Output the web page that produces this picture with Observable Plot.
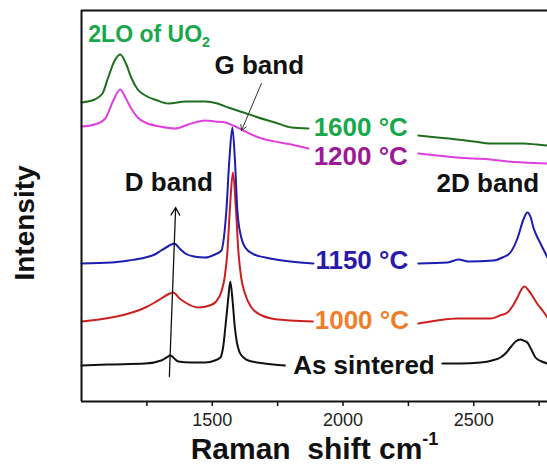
<!DOCTYPE html>
<html><head><meta charset="utf-8">
<script src="https://cdn.jsdelivr.net/npm/d3@7"></script>
<script src="https://cdn.jsdelivr.net/npm/@observablehq/plot@0.6"></script>
<style>body{margin:0;background:#fff}</style>
</head><body><div id="chart"></div>
<script>
// ---- data (Raman shift in cm-1, intensity in arbitrary offset units) ----
const xTicks = [1500, 2000, 2500];
const xMinorTicks = [1250, 1750, 2250, 2750];
const xDomain = [1000, 2782];
const yDomain = [0, 391];

const seriesNames = ["As sintered", "1000 °C", "1150 °C", "1200 °C", "1600 °C"];
const lineColors  = ["#111111", "#cc1f1f", "#1c1cb0", "#dd40dd", "#1f6f1f"];

// null = gap where the curve label sits
const shiftSintered = [1000,1100,1244,1305,1325,1340,1355,1370,1420,1473,1510,1531,1542,1550,1560,1569,1578,1586,1595,1605,1620,1638,1700,1778,2000,2380,2450,2526,2570,2602,2625,2640,2660,2679,2690,2705,2720,2736,2760,2782];
const intSintered   = [36,37,38,41,44,46,43,40,39,39,41,44,55,74,100,120,100,75,58,49,44,41,38,36,null,38,38,39,41,44,49,54,60,62,61,59,52,44,40,38];

const shift1000 = [1000,1114,1180,1244,1280,1305,1330,1351,1375,1397,1446,1490,1515,1535,1548,1558,1568,1579,1590,1600,1610,1625,1650,1690,1726,1800,1885,2000,2288,2360,2437,2500,2564,2600,2629,2650,2667,2680,2694,2710,2728,2745,2763,2782];
const int1000   = [80,84,88,94,99,103,107,109,103,99,94,96,100,110,125,150,195,229,195,150,125,108,94,86,83,81,80,null,78,81,83,83,83,86,89,96,104,111,115,111,104,97,91,84];

const shift1150 = [1000,1114,1180,1244,1280,1305,1330,1355,1375,1397,1430,1473,1510,1535,1545,1554,1565,1577,1587,1596,1610,1626,1660,1703,1800,1887,2000,2288,2400,2442,2480,2575,2610,2640,2667,2690,2705,2718,2728,2742,2755,2782];
const int1150   = [138,139,141,144,147,151,155,158,153,148,145,144,147,151,165,191,240,274,240,191,165,154,147,144,140,138,null,138,139,142,140,141,144,149,163,182,189,184,174,165,158,144];

const shift1200 = [1000,1050,1091,1120,1148,1170,1190,1215,1244,1300,1358,1408,1473,1510,1550,1580,1611,1650,1703,1760,1818,1868,2000,2288,2360,2437,2500,2564,2630,2690,2782];
const int1200   = [275,277,283,300,312,303,293,284,279,275,273,277,281,280,279,276,272,267,262,259,256,253,null,248,246,244,243,242,240,239,238];

const shift1600 = [1000,1050,1080,1102,1125,1148,1170,1190,1215,1244,1290,1332,1400,1473,1520,1561,1620,1676,1740,1803,1868,2000,2288,2360,2437,2500,2564,2630,2690,2740,2782];
const int1600   = [299,302,308,324,340,347,338,324,312,306,301,298,300,300,298,294,289,284,279,274,273,null,266,264,262,260,258,258,258,257,256];

// curve labels
const labelTexts  = ["As sintered", "1000 °C", "1150 °C", "1200 °C", "1600 °C"];
const labelX      = [2080, 2072, 2072, 2068, 2068];
const labelY      = [28, 73, 133, 237, 266];
const labelColors = ["#111111", "#f07d2c", "#2a1aa8", "#9c1a96", "#17a84b"];

// band annotations
const bandTexts = ["G band", "D band", "2D band"];
const bandX     = [1680, 1334, 2554];
const bandY     = [328, 211, 210];

const uoText = "2LO of UO2";
const uoX = 1026, uoY = 360, uoColor = "#17a84b";

// arrows
const arrowG = {x1: 1688, y1: 318, x2: 1612, y2: 271};
const arrowD = {x1: 1336, y1: 25, x2: 1360, y2: 194};

// ---- build tables ----
const seriesX = [shiftSintered, shift1000, shift1150, shift1200, shift1600];
const seriesY = [intSintered, int1000, int1150, int1200, int1600];
const rows = [];
seriesNames.forEach((name, k) => {
  seriesX[k].forEach((x, i) => rows.push({series: name, x, y: seriesY[k][i]}));
});
const labels = labelTexts.map((t, i) => ({t, x: labelX[i], y: labelY[i], c: labelColors[i]}));
const bands = bandTexts.map((t, i) => ({t, x: bandX[i], y: bandY[i]}));

const font = "'Liberation Sans', Arial, Helvetica, sans-serif";

const chart = Plot.plot({
  width: 547,
  height: 466,
  marginLeft: 81,
  marginRight: 0,
  marginTop: 10,
  marginBottom: 65,
  style: {fontFamily: font, background: "#fff", color: "#111"},
  x: {domain: xDomain, axis: null},
  y: {domain: yDomain, axis: null},
  color: {domain: seriesNames, range: lineColors},
  marks: [
    Plot.line(rows, {x: "x", y: "y", z: "series", stroke: "series", strokeWidth: 2, curve: "monotone-x"}),
    Plot.ruleX([xDomain[0]], {stroke: "#111", strokeWidth: 2}),
    Plot.ruleY([yDomain[0], yDomain[1]], {stroke: "#111", strokeWidth: 2}),
    Plot.axisX({ticks: xTicks, tickSize: 5, tickPadding: 7, fontSize: 18, tickFormat: d3.format("d"), label: null, strokeWidth: 1.5, fill: "#222"}),
    Plot.axisX({ticks: xMinorTicks, tickSize: 5, tickFormat: () => "", label: null, strokeWidth: 1.5}),
    Plot.arrow([arrowG], {x1: "x1", y1: "y1", x2: "x2", y2: "y2", stroke: "#333", strokeWidth: 1, headLength: 9}),
    Plot.arrow([arrowD], {x1: "x1", y1: "y1", x2: "x2", y2: "y2", stroke: "#111", strokeWidth: 1.3, headLength: 10}),
    Plot.text(labels, {x: "x", y: "y", text: "t", fill: "c", fontSize: 26, fontWeight: "bold", textAnchor: "middle", lineAnchor: "bottom"}),
    Plot.text(bands, {x: "x", y: "y", text: "t", fill: "#111", fontSize: 26, fontWeight: "bold", textAnchor: "middle", lineAnchor: "bottom"}),
    Plot.text([uoText], {x: uoX, y: uoY, text: d => d, fill: uoColor, fontSize: 23, fontWeight: "bold", textAnchor: "start", lineAnchor: "bottom"}),
    Plot.text(["Intensity"], {frameAnchor: "left", text: d => d, rotate: -90, dx: -48, dy: 17, fontSize: 28, fontWeight: "bold", fill: "#111", textAnchor: "middle", lineAnchor: "bottom"}),
    Plot.text(["Raman  shift cm-1"], {frameAnchor: "bottom", text: d => d, dy: 57, fontSize: 30, fontWeight: "bold", fill: "#111", textAnchor: "middle", lineAnchor: "bottom"})
  ]
});
document.getElementById("chart").appendChild(chart);

// rich text: subscript / superscript
d3.select(chart).selectAll("text").each(function() {
  const el = d3.select(this);
  const s = this.textContent;
  if (s === uoText) {
    el.text(null);
    el.append("tspan").text("2LO of UO");
    el.append("tspan").attr("font-size", "0.62em").attr("dy", "0.35em").text("2");
  } else if (s === "Raman  shift cm-1") {
    el.text(null).style("white-space", "pre");
    el.append("tspan").text("Raman  shift cm");
    el.append("tspan").attr("font-size", "0.6em").attr("dy", "-0.75em").text("-1");
  }
});
</script>
</body></html>
